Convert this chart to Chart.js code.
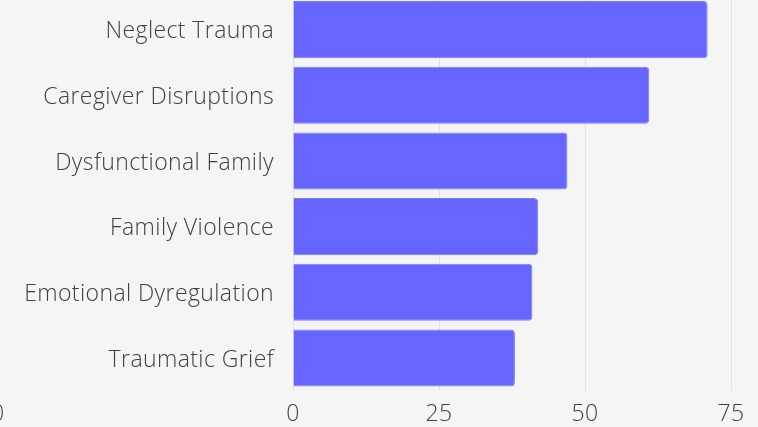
<!DOCTYPE html>
<html>
<head>
<meta charset="utf-8">
<script src="https://cdn.jsdelivr.net/npm/chart.js@4/dist/chart.umd.min.js"></script>
<style>
  html, body { margin: 0; padding: 0; background: #f5f5f5; overflow: hidden; }
  body { width: 758px; height: 427px; position: relative; }
  #wrap { position: absolute; left: 0; top: -36.4px; width: 758px; height: 474.4px; }
  #stray { position: absolute; left: -9px; top: 396px; font-family: "Open Sans"; font-size: 23px; font-weight: 300; color: #404040; }
</style>
</head>
<body>
<div id="wrap"><canvas id="chart"></canvas></div>
<span id="stray">0</span>
<script>
const categories = [
  "Neglect Trauma",
  "Caregiver Disruptions",
  "Dysfunctional Family",
  "Family Violence",
  "Emotional Dyregulation",
  "Traumatic Grief"
];
const values = [71, 61, 47, 42, 41, 38];
const xTicks = [0, 25, 50, 75];

const TEXT = "#404040";
const FONT = { family: "Open Sans", size: 23, weight: 300 };

const spacing = {
  id: "spacing",
  beforeDraw: (chart) => { chart.ctx.letterSpacing = "0.4px"; }
};

new Chart(document.getElementById("chart"), {
  type: "bar",
  data: {
    labels: categories,
    datasets: [{
      data: values,
      backgroundColor: "#6666ff",
      borderColor: "#7a7aff",
      borderWidth: 1,
      borderRadius: 4,
      barPercentage: 0.87,
      categoryPercentage: 1
    }]
  },
  options: {
    indexAxis: "y",
    responsive: true,
    maintainAspectRatio: false,
    animation: false,
    layout: { padding: { top: 16.6, right: 27, bottom: 0, left: 0 } },
    plugins: { legend: { display: false }, tooltip: { enabled: false } },
    scales: {
      x: {
        min: 0,
        max: 75,
        afterBuildTicks: (scale) => { scale.ticks = xTicks.map((v) => ({ value: v })); },
        grid: { color: "#e2e2e2", drawTicks: false },
        border: { display: false },
        ticks: { color: TEXT, font: FONT, padding: 10 }
      },
      y: {
        grid: { display: false, drawTicks: false },
        border: { display: false },
        ticks: { color: TEXT, font: FONT, padding: 19, labelOffset: 2 },
        afterFit: (scale) => { scale.width = 293; }
      }
    }
  },
  plugins: [spacing]
});
</script>
</body>
</html>
